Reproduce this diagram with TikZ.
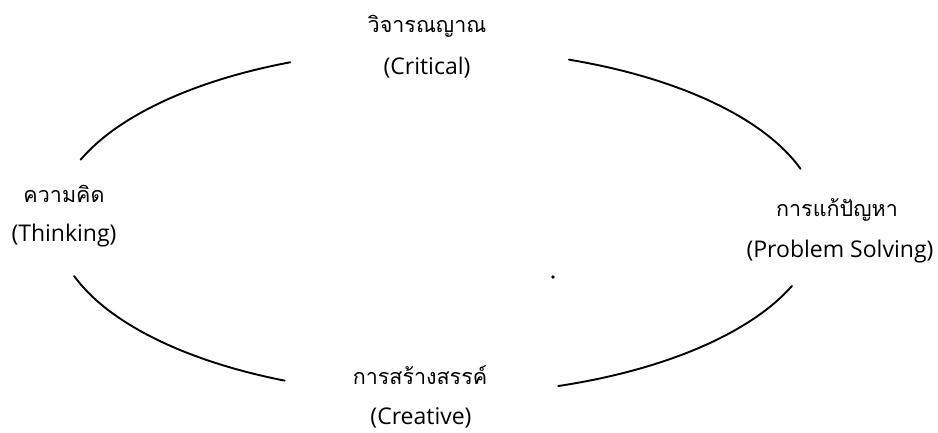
\documentclass[tikz,border=0pt]{standalone}
\usepackage{fontspec}
\newfontfamily\thaifont[Script=Thai]{Loma}
\newfontfamily\latfont{Open Sans}
\begin{document}
\begin{tikzpicture}[x=1pt,y=1pt,
  lbl/.style={anchor=base,inner sep=0pt,font=\thaifont\fontsize{21.5}{26}\selectfont},
  lble/.style={anchor=base,inner sep=0pt,font=\latfont\fontsize{23}{28}\selectfont},
  arcline/.style={line width=1.9pt,line cap=round}]
\useasboundingbox (0,0) rectangle (938,433);
\coordinate (c) at (437,211);
% labels
\node[lbl] (crit) at (427,400) {วิจารณญาณ};
\node[lble] (critE) at (427,358) {(Critical)};
\node[lbl] (think) at (64,230) {ความคิด};
\node[lble] (thinkE) at (64,191) {(Thinking)};
\node[lbl] (prob) at (837,216) {การแก้ปัญหา};
\node[lble] (probE) at (840,175) {(Problem Solving)};
\node[lbl] (crea) at (420,48) {การสร้างสรรค์};
\node[lble] (creaE) at (421,8) {(Creative)};
% arc end points
\coordinate (tl) at ([shift={(158.9:382pt and 173pt)}]c);
\coordinate (tr) at ([shift={(69.8:382pt and 173pt)}]c);
\coordinate (bl) at ([shift={(198.2:382pt and 173pt)}]c);
\coordinate (br) at ([shift={(288.5:382pt and 173pt)}]c);
\draw[arcline] (tl) arc[start angle=158.9,end angle=112.6,x radius=382pt,y radius=173pt];
\draw[arcline] (tr) arc[start angle=69.8,end angle=17.9,x radius=382pt,y radius=173pt];
\draw[arcline] (bl) arc[start angle=198.2,end angle=246.5,x radius=382pt,y radius=173pt];
\draw[arcline] (br) arc[start angle=288.5,end angle=338.3,x radius=382pt,y radius=173pt];
\fill (553,156) circle (1.8pt);
\end{tikzpicture}
\end{document}
